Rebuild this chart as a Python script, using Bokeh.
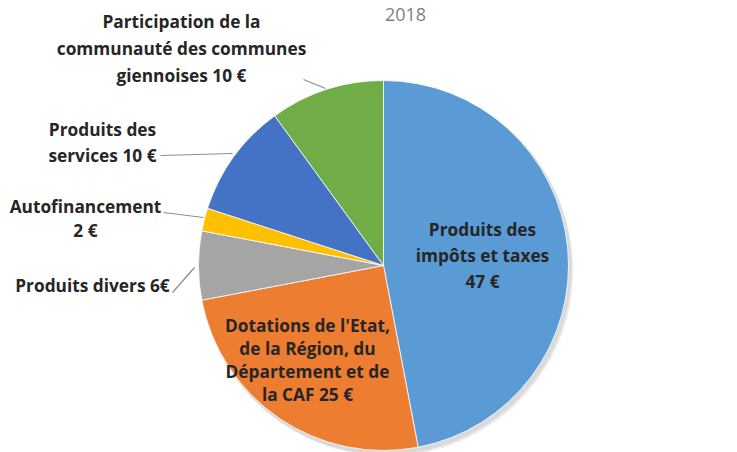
import math
from bokeh.plotting import figure
from bokeh.models import Range1d, ColumnDataSource
from bokeh.core.properties import value
from bokeh.embed import file_html
from bokeh.resources import INLINE

# ---- data ----
categories = [
    "Produits des impôts et taxes",
    "Dotations de l'Etat, de la Région, du Département et de la CAF",
    "Produits divers",
    "Autofinancement",
    "Produits des services",
    "Participation de la communauté des communes giennoises",
]
values = [47, 25, 6, 2, 10, 10]
colors = ["#5B9BD5", "#ED7D31", "#A5A5A5", "#FFC000", "#4472C4", "#70AD47"]
labels = [
    "Produits des\nimpôts et taxes\n47 €",
    "Dotations de l'Etat,\nde la Région, du\nDépartement et de\nla CAF 25 €",
    "Produits divers 6€",
    "Autofinancement\n2 €",
    "Produits des\nservices 10 €",
    "Participation de la\ncommunauté des communes\ngiennoises 10 €",
]
title_text = "2018"

# ---- layout (pixel coords, y from top) ----
W, H = 737, 452
CX, CY, R = 383, 265, 185
label_pos = [(482, 255), (307, 359), (92, 285), (85, 218), (102, 142), (181, 48)]
label_lh = [1.13, 1.0, 1.0, 1.07, 1.15, 1.17]
leaders = [None, None, [(172, 292), (194, 267)], [(163, 212), (203, 217)],
           [(160, 155), (232, 153)], [(303, 79), (325, 88)]]

def fy(y):
    return H - y

p = figure(width=W, height=H, output_backend="svg", toolbar_location=None,
           x_range=Range1d(0, W), y_range=Range1d(0, H), min_border=0,
           background_fill_color="white", border_fill_color="white")
p.axis.visible = False
p.grid.visible = False
p.outline_line_color = None

# soft shadow
for i, a in enumerate([0.05, 0.05, 0.05]):
    p.circle(x=[CX + 2 + i], y=[fy(CY) - 3 - i], radius=R + 1, fill_color="#000000",
             fill_alpha=a, line_color=None)

total = float(sum(values))
starts, ends, cum = [], [], 0.0
for v in values:
    starts.append(math.pi / 2 - 2 * math.pi * cum / total)
    cum += v
    ends.append(math.pi / 2 - 2 * math.pi * cum / total)

src = ColumnDataSource(dict(x=[CX] * len(values), y=[fy(CY)] * len(values),
                            start=starts, end=ends, color=colors, cat=categories))
p.wedge(x="x", y="y", radius=R, start_angle="start", end_angle="end",
        direction="clock", fill_color="color", line_color="white", line_width=0.8,
        source=src)

# leader lines
for seg in leaders:
    if seg:
        p.line(x=[s[0] for s in seg], y=[fy(s[1]) for s in seg],
               line_color="#8c8c8c", line_width=1.2)

# labels
for txt, (lx, ly), lh in zip(labels, label_pos, label_lh):
    p.text(x=[lx], y=[fy(ly)], text=[txt], text_align="center", text_baseline="middle",
           text_font=value("Open Sans"), text_font_style="bold", text_font_size="17.3px",
           text_color="#262626", text_line_height=lh)

# title (top of chart)
p.text(x=[405], y=[fy(7)], text=[title_text], text_align="center",
       text_baseline="top", text_font=value("Open Sans"),
       text_font_size="18px", text_color="#7f7f7f")

open("out.html", "w").write(file_html(p, INLINE))
